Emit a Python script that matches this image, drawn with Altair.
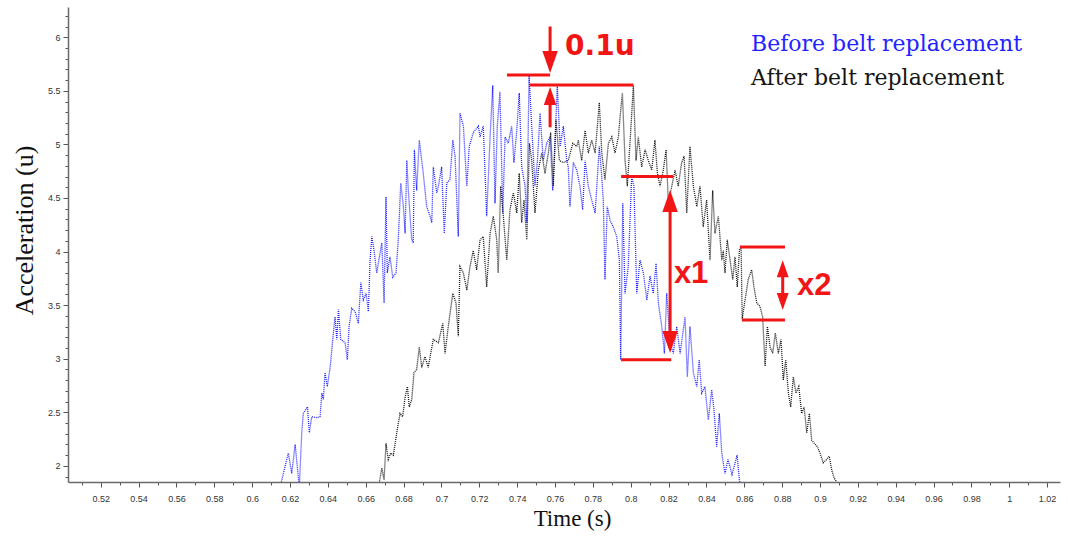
import altair as alt
import pandas as pd

# ---------------- data ----------------
SERIES = ["Before belt replacement", "After belt replacement"]
COLORS = ["#2323ff", "#151515"]

BLUE_T = [0.6147, 0.6191, 0.6209, 0.6227, 0.6249, 0.6262, 0.6270, 0.6292, 0.6302, 0.6315,
          0.6341, 0.6359, 0.6368, 0.6376, 0.6385, 0.6397, 0.6412, 0.6429, 0.6438, 0.6447,
          0.6456, 0.6468, 0.6491, 0.6503, 0.6512, 0.6526, 0.6544, 0.6561, 0.6574, 0.6587,
          0.6602, 0.6614, 0.6623, 0.6632, 0.6644, 0.6658, 0.6676, 0.6685, 0.6697, 0.6707,
          0.6714, 0.6728, 0.6743, 0.6760, 0.6772, 0.6785, 0.6799, 0.6808, 0.6817, 0.6825,
          0.6843, 0.6851, 0.6857, 0.6869, 0.6883, 0.6904, 0.6922, 0.6940, 0.6949, 0.6957,
          0.6975, 0.6984, 0.7001, 0.7015, 0.7028, 0.7045, 0.7060, 0.7072, 0.7089, 0.7098,
          0.7116, 0.7134, 0.7147, 0.7168, 0.7195, 0.7204, 0.7221, 0.7239, 0.7257, 0.7271,
          0.7283, 0.7295, 0.7309, 0.7324, 0.7336, 0.7353, 0.7371, 0.7383, 0.7398, 0.7411,
          0.7424, 0.7442, 0.7451, 0.7463, 0.7477, 0.7494, 0.7507, 0.7521, 0.7538, 0.7556,
          0.7574, 0.7588, 0.7600, 0.7612, 0.7627, 0.7644, 0.7662, 0.7670, 0.7679, 0.7697,
          0.7715, 0.7732, 0.7746, 0.7759, 0.7776, 0.7794, 0.7812, 0.7834, 0.7847, 0.7855,
          0.7864, 0.7876, 0.7891, 0.7908, 0.7926, 0.7940, 0.7947, 0.7958, 0.7970, 0.7987,
          0.8005, 0.8017, 0.8032, 0.8049, 0.8067, 0.8085, 0.8102, 0.8119, 0.8134, 0.8146,
          0.8164, 0.8178, 0.8190, 0.8208, 0.8225, 0.8243, 0.8261, 0.8287, 0.8299, 0.8313,
          0.8331, 0.8349, 0.8362, 0.8375, 0.8392, 0.8410, 0.8428, 0.8440, 0.8454, 0.8468,
          0.8481, 0.8498, 0.8514, 0.8535, 0.8562, 0.8578]
BLUE_A = [1.80, 2.12, 1.93, 2.20, 1.80, 2.31, 2.49, 2.55, 2.31, 2.46,
          2.45, 2.46, 2.68, 2.62, 2.87, 2.74, 2.92, 3.24, 3.39, 3.18,
          3.46, 3.18, 3.15, 2.99, 3.30, 3.47, 3.44, 3.33, 3.71, 3.55,
          3.61, 3.44, 3.92, 4.14, 4.01, 3.80, 3.99, 4.08, 3.52, 4.51,
          3.80, 3.95, 3.76, 3.80, 4.11, 4.64, 4.42, 4.17, 4.85, 4.57,
          4.11, 4.08, 4.95, 4.57, 5.04, 4.73, 4.42, 4.33, 4.27, 4.79,
          4.55, 4.61, 4.79, 4.17, 4.64, 4.67, 5.04, 4.89, 4.14, 5.29,
          5.17, 4.61, 4.98, 5.11, 5.17, 5.07, 5.17, 4.33, 5.07, 5.55,
          4.45, 5.17, 5.49, 4.36, 5.07, 5.01, 5.17, 4.83, 5.13, 5.48,
          4.79, 4.61, 4.27, 5.64, 5.17, 4.61, 4.85, 5.29, 4.85, 5.01,
          5.07, 4.57, 5.01, 5.55, 4.98, 5.17, 4.85, 4.79, 4.42, 4.83,
          4.76, 4.61, 4.39, 4.85, 4.61, 4.48, 4.36, 4.98, 4.70, 4.48,
          3.74, 4.42, 4.29, 4.23, 4.14, 3.92, 2.99, 4.45, 3.61, 3.86,
          4.70, 4.61, 3.61, 3.92, 3.80, 3.55, 3.77, 3.61, 3.89, 3.52,
          3.30, 3.05, 3.61, 3.15, 3.05, 3.30, 3.05, 3.39, 2.83, 3.30,
          2.87, 2.74, 2.99, 2.68, 2.74, 2.43, 2.71, 2.52, 2.18, 2.49,
          2.12, 1.93, 2.06, 1.92, 2.10, 1.80]

BLACK_T = [0.6667, 0.6685, 0.6697, 0.6707, 0.6719, 0.6732, 0.6746, 0.6764, 0.6781, 0.6795,
           0.6808, 0.6820, 0.6830, 0.6843, 0.6855, 0.6869, 0.6883, 0.6896, 0.6913, 0.6930,
           0.6957, 0.6984, 0.7007, 0.7019, 0.7036, 0.7060, 0.7077, 0.7089, 0.7098, 0.7116,
           0.7134, 0.7151, 0.7168, 0.7186, 0.7204, 0.7221, 0.7239, 0.7257, 0.7274, 0.7292,
           0.7300, 0.7313, 0.7327, 0.7345, 0.7362, 0.7380, 0.7398, 0.7411, 0.7424, 0.7436,
           0.7451, 0.7465, 0.7477, 0.7494, 0.7512, 0.7530, 0.7547, 0.7565, 0.7577, 0.7591,
           0.7605, 0.7623, 0.7644, 0.7670, 0.7694, 0.7715, 0.7723, 0.7741, 0.7759, 0.7776,
           0.7794, 0.7812, 0.7834, 0.7847, 0.7864, 0.7882, 0.7900, 0.7917, 0.7935, 0.7944,
           0.7956, 0.7970, 0.7982, 0.7996, 0.8014, 0.8028, 0.8040, 0.8058, 0.8076, 0.8093,
           0.8111, 0.8128, 0.8141, 0.8155, 0.8172, 0.8187, 0.8199, 0.8217, 0.8234, 0.8251,
           0.8269, 0.8282, 0.8296, 0.8313, 0.8331, 0.8349, 0.8366, 0.8383, 0.8401, 0.8419,
           0.8433, 0.8445, 0.8463, 0.8481, 0.8489, 0.8498, 0.8510, 0.8525, 0.8539, 0.8551,
           0.8563, 0.8574, 0.8583, 0.8589, 0.8604, 0.8621, 0.8639, 0.8651, 0.8666, 0.8683,
           0.8697, 0.8710, 0.8722, 0.8736, 0.8750, 0.8764, 0.8780, 0.8794, 0.8806, 0.8819,
           0.8833, 0.8845, 0.8859, 0.8873, 0.8888, 0.8903, 0.8916, 0.8930, 0.8944, 0.8956,
           0.8970, 0.8986, 0.9000, 0.9017, 0.9035, 0.9049, 0.9062, 0.9074, 0.9106]
BLACK_A = [1.80, 1.98, 1.87, 2.21, 2.06, 2.12, 2.10, 2.31, 2.49, 2.46,
           2.64, 2.74, 2.55, 2.62, 2.87, 2.90, 3.11, 2.92, 3.02, 2.92,
           3.18, 3.15, 3.33, 3.05, 3.30, 3.61, 3.52, 3.21, 3.86, 3.80,
           3.64, 3.86, 4.01, 3.83, 4.11, 4.14, 3.67, 4.17, 4.33, 4.11,
           3.80, 4.61, 4.33, 3.92, 4.39, 4.55, 4.36, 4.73, 4.27, 4.48,
           4.11, 5.01, 4.85, 4.36, 4.76, 4.92, 4.73, 4.92, 5.11, 4.61,
           5.23, 4.85, 4.83, 4.85, 5.01, 4.98, 5.04, 4.85, 5.13, 4.92,
           5.04, 4.92, 5.39, 4.92, 4.67, 5.01, 5.07, 4.92, 5.07, 5.26,
           5.48, 4.85, 4.61, 5.01, 5.55, 4.85, 5.07, 4.79, 4.95, 4.85,
           4.76, 5.04, 4.73, 4.61, 4.76, 4.95, 4.45, 4.61, 4.76, 4.61,
           4.83, 4.89, 4.36, 4.98, 4.61, 4.42, 4.61, 4.23, 4.48, 3.92,
           4.57, 4.17, 4.33, 3.92, 4.01, 3.80, 4.11, 3.92, 3.74, 3.95,
           3.67, 4.01, 4.05, 3.37, 3.55, 3.74, 3.83, 3.67, 3.52, 3.49,
           3.39, 2.93, 3.30, 3.11, 3.05, 3.24, 3.05, 3.18, 2.80, 2.99,
           2.68, 2.55, 2.83, 2.68, 2.74, 2.49, 2.55, 2.31, 2.49, 2.24,
           2.21, 2.18, 2.12, 2.03, 2.06, 2.09, 1.96, 1.89, 1.80]

# axis ticks / domains
X_MAJOR = [0.52, 0.54, 0.56, 0.58, 0.6, 0.62, 0.64, 0.66, 0.68, 0.7, 0.72, 0.74, 0.76,
           0.78, 0.8, 0.82, 0.84, 0.86, 0.88, 0.9, 0.92, 0.94, 0.96, 0.98, 1, 1.02]
Y_MAJOR = [2, 2.5, 3, 3.5, 4, 4.5, 5, 5.5, 6]
X_DOMAIN = [0.5027, 1.0268]
Y_DOMAIN = [1.85, 6.282]
X_TICKS = sorted(set(X_MAJOR + [round(v + 0.01, 2) for v in X_MAJOR[:-1]] + [0.51]))
Y_TICKS = [round(1.9 + 0.1 * i, 1) for i in range(44)]

# red annotations (data units)
RULE_X = [0.7346, 0.7468, 0.7574, 0.7574, 0.7949, 0.7949, 0.8208, 0.8577, 0.8588, 0.8803]
RULE_X2 = [0.7574, 0.8014, 0.7574, 0.7574, 0.8224, 0.8214, 0.8208, 0.8815, 0.8815, 0.8803]
RULE_Y = [5.647, 5.554, 6.10, 5.16, 4.70, 2.99, 4.50, 4.043, 3.362, 3.85]
RULE_Y2 = [5.647, 5.554, 5.75, 5.45, 4.70, 2.99, 3.13, 4.043, 3.362, 3.52]

HEAD_X = [0.7574, 0.7574, 0.8208, 0.8208, 0.8803, 0.8803]
HEAD_Y = [5.666, 5.535, 4.575, 3.054, 3.92, 3.455]
HEAD_DIR = ["down", "up", "up", "down", "up", "down"]
HEAD_SIZE = [484, 324, 484, 484, 289, 289]

LABEL_01U = ["0.1u"]
LABEL_01U_X = [0.7653]
LABEL_01U_Y = [5.834]
ANN_TEXT = ["x1", "x2"]
ANN_X = [0.8228, 0.8878]
ANN_Y = [3.707, 3.595]

RED = "#f21515"
UP_PATH = "M0,0 L0.7,2 L-0.7,2 Z"
DOWN_PATH = "M0,0 L0.7,-2 L-0.7,-2 Z"

# ---------------- tables ----------------
lines_df = pd.concat([
    pd.DataFrame({"t": BLUE_T, "a": BLUE_A, "series": SERIES[0]}),
    pd.DataFrame({"t": BLACK_T, "a": BLACK_A, "series": SERIES[1]}),
], ignore_index=True)
rules_df = pd.DataFrame({"x": RULE_X, "x2": RULE_X2, "y": RULE_Y, "y2": RULE_Y2})
heads_df = pd.DataFrame({"x": HEAD_X, "y": HEAD_Y, "dir": HEAD_DIR, "s": HEAD_SIZE})
u_df = pd.DataFrame({"x": LABEL_01U_X, "y": LABEL_01U_Y, "txt": LABEL_01U})
ann_df = pd.DataFrame({"x": ANN_X, "y": ANN_Y, "txt": ANN_TEXT})

xscale = alt.Scale(domain=X_DOMAIN, nice=False, zero=False)
yscale = alt.Scale(domain=Y_DOMAIN, nice=False, zero=False)

x_major_test = "round(datum.value*100) % 2 == 0"
y_major_test = "round(datum.value*10) % 5 == 0"

x_axis = alt.Axis(
    values=X_TICKS, tickCount=200,
    labelExpr=f"{x_major_test} ? toString(round(datum.value*100)/100) : ''",
    tickSize={"condition": {"test": x_major_test, "value": 5}, "value": 3},
    grid=False, domainColor="#6a6a6a", domainWidth=1.5, tickColor="#555555",
    labelFont="Liberation Sans", labelFontSize=9, labelColor="#333333",
    labelPadding=7, labelFlush=False, labelOverlap=False,
    title="Time (s)", titleFont="Liberation Serif", titleFontSize=23,
    titleFontWeight="normal", titleColor="#111111",
    titleX=504, titleY=43, titleAlign="center", titleBaseline="alphabetic",
)
y_axis = alt.Axis(
    values=Y_TICKS, tickCount=200,
    labelExpr=f"{y_major_test} ? toString(round(datum.value*10)/10) : ''",
    tickSize={"condition": {"test": y_major_test, "value": 5}, "value": 3},
    grid=False, domainColor="#6a6a6a", domainWidth=1.5, tickColor="#555555",
    labelFont="Liberation Sans", labelFontSize=9, labelColor="#333333",
    labelPadding=3, labelFlush=False, labelOverlap=False,
    title="Acceleration (u)", titleFont="Liberation Serif", titleFontSize=26,
    titleFontWeight="normal", titleColor="#111111",
    titleAngle=270, titleX=-36, titleY=223, titleAlign="center",
    titleBaseline="alphabetic",
)

legend = alt.Legend(
    title=None, orient="none", legendX=661, legendY=26,
    symbolSize=0, symbolStrokeWidth=0, symbolOpacity=0, symbolType="circle",
    labelOffset=0, padding=0, rowPadding=12,
    labelFont="DejaVu Serif", labelFontSize=22, labelLimit=400,
    labelColor=alt.ExprRef(
        expr=f"datum.value === '{SERIES[0]}' ? '{COLORS[0]}' : '{COLORS[1]}'"),
)

lines = alt.Chart(lines_df).mark_line(
    strokeWidth=1.3, strokeDash=[1, 1], clip=True
).encode(
    x=alt.X("t:Q", scale=xscale, axis=x_axis),
    y=alt.Y("a:Q", scale=yscale, axis=y_axis),
    color=alt.Color("series:N", scale=alt.Scale(domain=SERIES, range=COLORS), legend=legend),
)

rules = alt.Chart(rules_df).mark_rule(color=RED, strokeWidth=3).encode(
    x="x:Q", x2="x2:Q", y="y:Q", y2="y2:Q"
)

heads = alt.Chart(heads_df).mark_point(filled=True, color=RED, opacity=1, strokeWidth=0).encode(
    x="x:Q", y="y:Q",
    shape=alt.Shape("dir:N", scale=alt.Scale(domain=["up", "down"], range=[UP_PATH, DOWN_PATH]), legend=None),
    size=alt.Size("s:Q", scale=None, legend=None),
)

u_text = alt.Chart(u_df).mark_text(
    font="DejaVu Sans", fontWeight="bold", fontSize=28, color=RED,
    align="left", baseline="alphabetic"
).encode(x="x:Q", y="y:Q", text="txt:N")

texts = alt.Chart(ann_df).mark_text(
    font="Liberation Sans", fontWeight="bold", fontSize=31, color=RED,
    align="left", baseline="alphabetic"
).encode(x="x:Q", y="y:Q", text="txt:N")

chart = alt.layer(lines, rules, heads, u_text, texts).properties(
    width=992, height=475,
    padding={"left": 68, "top": 7, "right": 8, "bottom": 62},
    autosize=alt.AutoSizeParams(type="none"),
    background="white",
).configure_view(stroke=None)

chart.save("out.html", embed_options={"renderer": "svg", "actions": False})
